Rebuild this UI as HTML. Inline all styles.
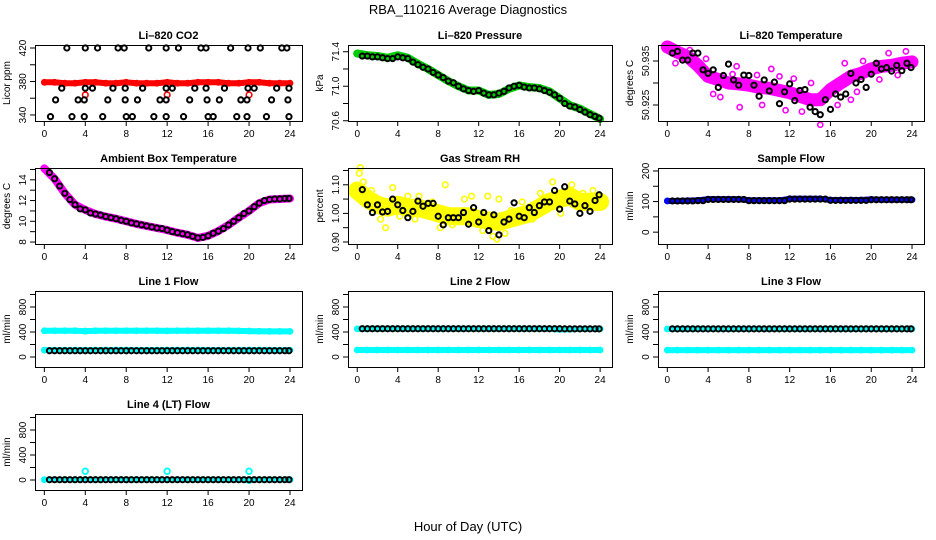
<!DOCTYPE html>
<html><head><meta charset="utf-8">
<style>
html,body{margin:0;padding:0;background:#fff;}
svg{display:block;font-family:"Liberation Sans",Arial,sans-serif;}
</style></head>
<body>
<svg id="chart" width="936" height="540" viewBox="0 0 936 540" xmlns="http://www.w3.org/2000/svg">
<rect x="0" y="0" width="936" height="540" fill="#fff"/>
<text x="468" y="14" text-anchor="middle" font-size="13">RBA_110216  Average Diagnostics</text>
<text x="468" y="531" text-anchor="middle" font-size="13">Hour of Day (UTC)</text>
</svg>
<script>
// ---------- data ----------
const hoursHalf = [0.5,1,1.5,2,2.5,3,3.5,4,4.5,5,5.5,6,6.5,7,7.5,8,8.5,9,9.5,10,10.5,11,11.5,12,12.5,13,13.5,14,14.5,15,15.5,16,16.5,17,17.5,18,18.5,19,19.5,20,20.5,21,21.5,22,22.5,23,23.5,23.9];
const hoursFull = [0,1,2,3,4,5,6,7,8,9,10,11,12,13,14,15,16,17,18,19,20,21,22,23,24];
const xTicks = [0,4,8,12,16,20,24];

// CO2
const co2Hours = [2.2,4.0,5.2,7.2,7.8,10.2,11.9,13.1,15.3,15.8,18.2,19.9,21.1,23.2,23.7, 1.7,4.0,4.7,6.7,7.9,9.6,11.9,12.5,14.7,15.8,17.6,19.9,20.5,22.7,23.9, 1.1,3.3,3.9,6.2,7.9,9.1,11.3,11.9,14.2,15.9,17.1,19.2,19.8,22.2,23.8, 0.6,2.7,3.9,5.7,8.0,8.6,10.7,11.9,13.6,16.0,16.5,18.8,19.8,21.7,23.9];
const co2Values = [420,420,420,420,420,420,420,420,420,420,420,420,420,420,420, 372,372,372,372,372,372,372,372,372,372,372,372,372,372,372, 358,358,358,358,358,358,358,358,358,358,358,358,358,358,358, 338,338,338,338,338,338,338,338,338,338,338,338,338,338,338];
const co2Red = [379,379,378,378,379,379,378,378,379,378,378,378,379,378,378,379,379,379,378,378,379,379,378,378,378];
const co2RedOutHours = [4,12,20];
const co2RedOutValues = [364,364,364];

// Pressure
const presBlack = [71.35,71.35,71.34,71.34,71.33,71.32,71.32,71.34,71.33,71.32,71.28,71.25,71.22,71.20,71.16,71.13,71.10,71.06,71.04,71.00,70.97,70.95,70.94,70.95,70.92,70.90,70.90,70.92,70.94,70.98,71.00,71.01,70.99,70.98,70.98,70.97,70.95,70.93,70.90,70.86,70.80,70.77,70.76,70.73,70.70,70.67,70.65,70.63];
const presGreen = [71.38,71.36,71.35,71.33,71.36,71.33,71.26,71.20,71.13,71.06,71.00,70.95,70.95,70.90,70.91,70.97,71.01,70.99,70.98,70.94,70.86,70.78,70.74,70.68,70.62];

// Li-820 Temperature
const tempBlack = [50.9368,50.9372,50.9352,50.9352,50.9368,50.9368,50.9330,50.9322,50.9330,50.9290,50.9317,50.9343,50.9307,50.9295,50.9318,50.9317,50.9295,50.9270,50.9307,50.9282,50.9302,50.9253,50.9280,50.9298,50.9260,50.9283,50.9285,50.9245,50.9235,50.9228,50.9262,50.9240,50.9275,50.9268,50.9275,50.9322,50.9300,50.9308,50.9290,50.9320,50.9345,50.9332,50.9335,50.9327,50.9340,50.9328,50.9345,50.9335];
const tempMagenta = [50.9382,50.9370,50.9360,50.9340,50.9315,50.9308,50.9300,50.9298,50.9295,50.9290,50.9288,50.9283,50.9278,50.9270,50.9262,50.9262,50.9285,50.9300,50.9315,50.9322,50.9332,50.9338,50.9340,50.9345,50.9348];
const tempCloudHours = [0.8,2.2,3.1,4.5,5.2,6.4,7.1,8.8,9.3,10.2,11.6,12.4,13.2,14.1,15.0,15.8,16.7,17.4,18.6,19.2,20.8,21.7,22.6,23.4,6.8,11.0,3.8,18.0];
const tempCloudValues = [50.9345,50.9375,50.9340,50.9275,50.9268,50.9320,50.9245,50.9318,50.9250,50.9332,50.9238,50.9310,50.9235,50.9300,50.9205,50.9290,50.9250,50.9345,50.9280,50.9350,50.9308,50.9368,50.9318,50.9372,50.9338,50.9315,50.9355,50.9262];

// Ambient box temperature
const ambBlack = [14.7,14.1,13.4,12.7,12.1,11.6,11.2,11.1,10.8,10.7,10.6,10.45,10.35,10.25,10.1,10.0,9.85,9.75,9.65,9.55,9.45,9.35,9.3,9.15,9.0,8.9,8.8,8.7,8.55,8.4,8.45,8.6,8.85,9.05,9.3,9.65,10.0,10.35,10.75,11.0,11.4,11.75,12.0,12.1,12.15,12.15,12.2,12.2];
const ambMagenta = [15.1,14.1,12.7,11.6,11.1,10.7,10.45,10.25,10.0,9.75,9.55,9.35,9.15,8.9,8.7,8.4,8.6,9.05,9.65,10.35,11.0,11.75,12.1,12.15,12.2];

// Gas stream RH
const rhBlack = [1.083,1.03,1.003,1.03,1.005,1.007,1.05,1.03,1.01,0.985,1.007,1.043,1.025,1.035,1.035,0.99,0.96,0.985,0.985,0.985,1.003,0.962,1.02,0.97,1.003,0.94,0.995,0.925,0.97,0.98,1.037,0.99,0.985,1.02,1.003,1.027,1.04,1.04,1.08,1.015,1.093,1.043,1.033,1.0,1.027,1.007,1.045,1.065];
const rhYellow = [1.08,1.05,1.03,1.02,1.03,1.02,1.02,1.01,1.0,0.99,0.99,0.99,0.98,0.975,0.97,0.98,0.99,1.0,1.02,1.04,1.05,1.06,1.04,1.04,1.04];
const rhCloudHours = [0.2,0.3,0.6,1.4,2.3,2.8,3.5,4.2,5.7,6.1,7.4,8.7,9.4,10.6,11.3,12.4,12.9,13.4,14.0,14.6,15.2,16.3,17.3,18.1,19.3,20.1,21.2,22.3,23.3,13.8,8.2,5.0];
const rhCloudValues = [1.14,1.16,1.11,1.08,0.98,0.95,1.09,0.99,0.98,1.06,1.04,1.10,0.96,1.05,1.06,0.94,1.06,0.92,1.05,0.93,1.01,1.04,0.98,1.07,1.11,1.00,1.10,1.07,1.08,0.91,0.95,1.06];

// Sample flow
const sfBlack = [102,102,102,102,102,103,103,107,107,107,107,107,107,107,107,103,103,103,103,103,103,103,103,108,108,108,108,108,108,108,108,104,104,104,104,104,104,104,104,106,106,106,106,106,106,106,106,106];
const sfBlue = [102,102,103,104,108,108,108,108,104,104,104,104,109,109,109,109,105,105,105,105,107,106,106,106,106];

// Line flows
const l1Black = [100,100,100,100,100,100,100,100,100,100,100,100,100,100,100,100,100,100,100,100,100,100,100,100,100,100,100,100,100,100,100,100,100,100,100,100,100,100,100,100,100,100,100,100,100,100,100,100];
const l1CyanHigh = [420,420,420,420,415,420,420,420,420,420,420,420,418,420,420,420,420,420,420,418,415,412,410,410,410];
const l1CyanLow = [110,110,110,110,110,112,112,112,112,110,110,110,112,112,112,112,110,110,110,110,112,112,110,110,110];
const l2Black = [452,452,452,452,452,452,452,452,452,452,452,452,452,452,452,452,452,452,452,452,452,452,452,452,452,452,452,452,452,452,452,452,452,452,452,452,452,452,452,452,450,450,450,450,450,450,450,450];
const l2CyanHigh = [450,452,452,452,452,452,452,452,452,452,452,452,452,452,452,452,452,452,452,452,440,445,450,450,450];
const l2CyanLow = [112,112,112,112,112,112,112,112,112,112,112,112,112,112,112,112,112,112,112,112,112,112,112,112,112];
const l3Black = [450,450,450,450,450,450,450,450,450,450,450,450,450,450,450,450,450,450,450,450,450,450,450,450,450,450,450,450,450,450,450,450,450,450,450,450,450,450,450,450,450,450,450,450,450,450,450,450];
const l3CyanHigh = [448,450,450,450,450,450,450,450,450,450,450,450,450,450,450,450,450,450,450,450,450,450,450,450,450];
const l3CyanLow = [110,110,110,110,110,110,110,110,110,110,110,110,110,110,110,110,110,110,110,110,110,110,110,110,110];
const l4Black = [5,5,5,5,5,5,5,5,5,5,5,5,5,5,5,5,5,5,5,5,5,5,5,5,5,5,5,5,5,5,5,5,5,5,5,5,5,5,5,5,5,5,5,5,5,5,5,5];
const l4Cyan = [5,5,5,5,5,5,5,5,5,5,5,5,5,5,5,5,5,5,5,5,-10,5,5,5,5];
const l4OutHours = [4,12,20];
const l4OutValues = [140,140,140];

// ---------- drawing ----------
const svg = document.getElementById('chart');
const NS = 'http://www.w3.org/2000/svg';
function mk(tag, attrs, parent){
  const e = document.createElementNS(NS, tag);
  for (const k in attrs) e.setAttribute(k, attrs[k]);
  (parent||svg).appendChild(e);
  return e;
}
const cols = [[35,302],[348,612],[658,924]];
const rows = [45,168,291,414];
const H = 76;

function makePanel(name, col, row, title, ylab, lo, hi, ticks, labels){
  const [L,R] = cols[col]; const T = rows[row]; const B = T + H; const W = R - L;
  const g = mk('g', {});
  
  
  const xs = h => L + 0.035*W + h*(0.92*W)/24;
  const ys = v => B - (v - lo)/(hi - lo)*H;
  const t = mk('text', {x:(L+R)/2, y:T-6, 'text-anchor':'middle', 'font-size':11, 'font-weight':'bold'}, g);
  t.textContent = title;
  
  
  const yl = mk('text', {x:0, y:0, 'text-anchor':'middle', 'font-size':10, transform:`translate(${L-25},${(T+B)/2}) rotate(-90)`}, g);
  yl.textContent = ylab;
  
  
  const plot = mk('g', {}, g);
  
  
  const ax = mk('g', {stroke:'#000','stroke-width':1,fill:'none'}, g);
  
  
  mk('rect', {x:L+0.5, y:T+0.5, width:W, height:H}, ax);
  mk('line', {x1:xs(0), x2:xs(24), y1:B+0.5, y2:B+0.5}, ax);
  xTicks.forEach(h => {
    mk('line', {x1:xs(h), x2:xs(h), y1:B, y2:B+5}, ax);
    const tl = mk('text', {x:xs(h), y:B+16, 'text-anchor':'middle', 'font-size':10, stroke:'none', fill:'#000'}, g);
    tl.textContent = h;
    
    
  });
  ticks.forEach(v => { mk('line', {x1:L-5, x2:L, y1:ys(v), y2:ys(v)}, ax); });
  labels.forEach(v => {
    const tl = mk('text', {x:0, y:0, 'text-anchor':'middle', 'font-size':10, transform:`translate(${L-9},${ys(v)}) rotate(-90)`}, g);
    tl.textContent = v;
    
    
  });
  return {xs, ys, plot, L, R, T, B};
}
function band(p, hrs, vals, color, width, nm){
  const pts = hrs.map((h,i) => p.xs(h).toFixed(1) + ',' + p.ys(vals[i]).toFixed(1)).join(' ');
  const pl = mk('polyline', {points:pts, fill:'none', stroke:color, 'stroke-width':width, 'stroke-linejoin':'round', 'stroke-linecap':'round'}, p.plot);
  
  
  points(p, hrs, vals, color, 2.6, 1.6, nm + '-point');
}
function points(p, hrs, vals, color, r, sw, nm){
  hrs.forEach((h,i) => {
    const c = mk('circle', {cx:p.xs(h), cy:p.ys(vals[i]), r:r, fill:'none', stroke:color, 'stroke-width':sw}, p.plot);
    
    
  });
}
const BW = 2.0;

let p = makePanel('co2', 0, 0, 'Li\u2013820 CO2', 'Licor ppm', 332.8, 423.6, [340,360,380,400,420], [340,380,420]);
band(p, hoursFull, co2Red, '#ff0000', 6, 'co2-red-series');
points(p, co2RedOutHours, co2RedOutValues, '#ff0000', 2.8, 1.6, 'co2-red-outlier');
points(p, co2Hours, co2Values, '#000', 2.6, BW, 'co2-black-point');

p = makePanel('pressure', 1, 0, 'Li\u2013820 Pressure', 'kPa', 70.597, 71.478, [70.6,70.8,71.0,71.2,71.4], ['70.6','71.0','71.4']);
band(p, hoursFull, presGreen, '#00cc00', 8, 'pressure-green-series');
points(p, hoursHalf, presBlack, '#000', 2.6, BW, 'pressure-black-point');

p = makePanel('li820-temp', 2, 0, 'Li\u2013820 Temperature', 'degrees C', 50.92136, 50.93864, [50.925,50.930,50.935], ['50.925','50.935']);
band(p, hoursFull, tempMagenta, '#ff00ff', 13, 'li820-temp-magenta-series');
points(p, tempCloudHours, tempCloudValues, '#ff00ff', 2.6, 1.6, 'li820-temp-magenta-point');
points(p, hoursHalf, tempBlack, '#000', 2.6, BW, 'li820-temp-black-point');

p = makePanel('ambient-temp', 0, 1, 'Ambient Box Temperature', 'degrees C', 7.81, 15.14, [8,9,10,11,12,13,14,15], [8,10,12,14]);
band(p, hoursFull, ambMagenta, '#ff00ff', 8, 'ambient-magenta-series');
points(p, hoursHalf, ambBlack, '#000', 2.6, BW, 'ambient-black-point');

p = makePanel('gas-rh', 1, 1, 'Gas Stream RH', 'percent', 0.893, 1.1586, [0.90,0.95,1.00,1.05,1.10,1.15], ['0.90','1.00','1.10']);
band(p, hoursFull, rhYellow, '#ffff00', 18, 'rh-yellow-series');
points(p, rhCloudHours, rhCloudValues, '#ffff00', 2.8, 1.6, 'rh-yellow-point');
points(p, hoursHalf, rhBlack, '#000', 2.6, BW, 'rh-black-point');

p = makePanel('sample-flow', 2, 1, 'Sample Flow', 'ml/min', -38.7, 209.7, [0,50,100,150,200], [0,100,200]);
band(p, hoursFull, sfBlue, '#0000ff', 6, 'sample-flow-blue-series');
points(p, hoursHalf, sfBlack, '#000', 2.6, BW, 'sample-flow-black-point');

const fT = [0,200,400,600,800,1000], fL = [0,400,800];
p = makePanel('line1-flow', 0, 2, 'Line 1 Flow', 'ml/min', -160, 1056, fT, fL);
band(p, hoursFull, l1CyanHigh, '#00ffff', 6, 'line1-cyan-high');
band(p, hoursFull, l1CyanLow, '#00ffff', 6, 'line1-cyan-low');
points(p, hoursHalf, l1Black, '#000', 2.6, BW, 'line1-black-point');

p = makePanel('line2-flow', 1, 2, 'Line 2 Flow', 'ml/min', -160, 1056, fT, fL);
band(p, hoursFull, l2CyanHigh, '#00ffff', 6, 'line2-cyan-high');
band(p, hoursFull, l2CyanLow, '#00ffff', 6, 'line2-cyan-low');
points(p, hoursHalf, l2Black, '#000', 2.6, BW, 'line2-black-point');

p = makePanel('line3-flow', 2, 2, 'Line 3 Flow', 'ml/min', -160, 1056, fT, fL);
band(p, hoursFull, l3CyanHigh, '#00ffff', 6, 'line3-cyan-high');
band(p, hoursFull, l3CyanLow, '#00ffff', 6, 'line3-cyan-low');
points(p, hoursHalf, l3Black, '#000', 2.6, BW, 'line3-black-point');

p = makePanel('line4-flow', 0, 3, 'Line 4 (LT) Flow', 'ml/min', -160, 1056, fT, fL);
band(p, hoursFull, l4Cyan, '#00ffff', 5, 'line4-cyan-series');
points(p, l4OutHours, l4OutValues, '#00ffff', 2.8, 1.8, 'line4-cyan-outlier');
points(p, hoursHalf, l4Black, '#000', 2.6, BW, 'line4-black-point');
</script>
</body></html>
